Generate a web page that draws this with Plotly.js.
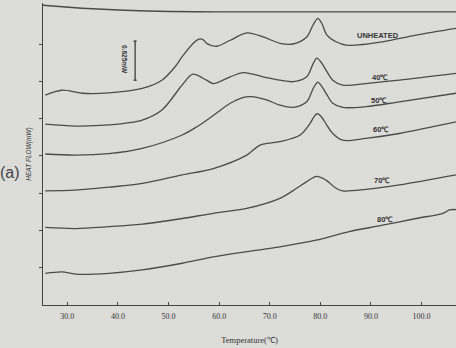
<!DOCTYPE html>
<html>
<head>
<meta charset="utf-8">
<script src="https://cdn.plot.ly/plotly-3.0.1.min.js"></script>
<style>html,body{margin:0;padding:0;background:#dcdcd9;}#chart{width:456px;height:348px;}</style>
</head>
<body>
<div id="chart"></div>
<script>
// Temperature (°C) and heat flow (offset, arbitrary mW units)
var tUnheated = [25.65, 28.95, 32.9, 38.2, 44.8, 48.7, 51.3, 52.7, 54.9, 56.0, 56.8, 57.6, 59.5, 62.2, 65.5, 68.7, 72.0, 74.6, 77.3, 78.6, 79.5, 80.3, 81.3, 83.1, 85.1, 92.3, 98.9, 106.8];
var hfUnheated = [5.63, 5.76, 5.68, 5.69, 5.81, 6.03, 6.39, 6.66, 7.02, 7.13, 7.12, 7.01, 6.94, 7.10, 7.30, 7.19, 7.02, 7.00, 7.19, 7.52, 7.69, 7.55, 7.24, 7.06, 6.97, 7.06, 7.24, 7.42];

var t40 = [25.65, 31.6, 38.2, 44.8, 48.7, 52.7, 54.8, 57.5, 58.85, 62.2, 64.8, 68.7, 72.0, 74.7, 77.3, 78.6, 79.3, 80.2, 81.3, 82.45, 84.4, 89.0, 95.6, 106.8];
var hf40 = [4.85, 4.80, 4.83, 4.96, 5.23, 5.90, 6.19, 6.03, 5.94, 6.12, 6.23, 6.12, 6.03, 5.99, 6.12, 6.48, 6.62, 6.50, 6.26, 6.03, 5.90, 5.94, 6.03, 6.21];

var t50 = [25.65, 31.6, 38.2, 44.8, 52.7, 55.6, 58.9, 62.2, 64.8, 66.3, 69.4, 72.0, 74.7, 77.3, 78.7, 79.5, 80.3, 81.3, 82.45, 84.4, 89.0, 95.6, 106.8];
var hf50 = [4.05, 4.02, 4.06, 4.20, 4.56, 4.78, 5.09, 5.41, 5.57, 5.59, 5.50, 5.36, 5.30, 5.45, 5.84, 5.98, 5.86, 5.64, 5.41, 5.30, 5.32, 5.45, 5.68];

var t60 = [25.65, 31.6, 38.2, 44.8, 52.7, 58.85, 65.45, 68.1, 72.0, 76.0, 78.0, 78.7, 79.35, 80.2, 81.2, 82.45, 84.4, 89.0, 95.6, 106.8];
var hf60 = [3.06, 3.08, 3.16, 3.26, 3.49, 3.66, 4.02, 4.29, 4.38, 4.56, 4.88, 5.04, 5.13, 5.05, 4.84, 4.60, 4.42, 4.47, 4.60, 4.91];

var t70 = [25.65, 31.6, 38.2, 44.8, 52.7, 58.85, 65.45, 72.0, 75.3, 77.3, 79.25, 81.1, 83.1, 84.4, 89.0, 95.6, 106.8];
var hf70 = [2.08, 2.05, 2.10, 2.17, 2.32, 2.46, 2.59, 2.86, 3.13, 3.31, 3.45, 3.35, 3.13, 3.06, 3.10, 3.22, 3.49];

var t80 = [25.65, 28.95, 31.6, 38.2, 44.8, 52.7, 58.85, 65.45, 72.0, 79.15, 85.7, 92.3, 98.9, 104.2, 105.5, 106.8];
var hf80 = [0.85, 0.89, 0.83, 0.85, 0.94, 1.12, 1.29, 1.43, 1.56, 1.74, 1.97, 2.14, 2.32, 2.46, 2.55, 2.56];

var curveLabels = ["UNHEATED", "40\u2103", "50\u2103", "60\u2103", "70\u2103", "80\u2103"];
var labelTemp = [91.4, 91.8, 91.6, 91.9, 92.2, 92.8];
var labelHF = [7.24, 6.09, 5.48, 4.71, 3.33, 2.28];

var xTicks = [30, 40, 50, 60, 70, 80, 90, 100];
var xTickText = ["30.0", "40.0", "50.0", "60.0", "70.0", "80.0", "90.0", "100.0"];
var yTicks = [1, 2, 3, 4, 5, 6, 7];

var lineColor = '#4b4b4b';
var series = [[tUnheated, hfUnheated], [t40, hf40], [t50, hf50], [t60, hf60], [t70, hf70], [t80, hf80]];
var traces = series.map(function (s, i) {
  return {
    x: s[0], y: s[1], type: 'scatter', mode: 'lines', name: curveLabels[i],
    line: {color: lineColor, width: 1.3, shape: 'spline', smoothing: 0.9},
    hoverinfo: 'skip', showlegend: false
  };
});

var annotations = curveLabels.map(function (txt, i) {
  return {
    x: labelTemp[i], y: labelHF[i], xref: 'x', yref: 'y', text: '<b>' + txt + '</b>',
    showarrow: false, font: {family: 'Liberation Sans, Arial, sans-serif', size: 7.5, color: '#333'}
  };
});
annotations.push({
  x: 41.4, y: 6.57, xref: 'x', yref: 'y', text: '<b>0.625mW</b>', textangle: 90,
  showarrow: false, font: {family: 'Liberation Sans, Arial, sans-serif', size: 6.5, color: '#333'}
});
annotations.push({
  x: -0.08, y: 0.44, xref: 'paper', yref: 'paper', text: '(a)', showarrow: false,
  xanchor: 'center', yanchor: 'middle',
  font: {family: 'Liberation Sans, Arial, sans-serif', size: 16, color: '#444'}
});

var shapes = [
  {type: 'path', xref: 'x', yref: 'y', path: 'M 25.2,8.04 Q 40,7.86 60,7.86 L 106.8,7.86',
   line: {color: lineColor, width: 1.3}},
  {type: 'line', xref: 'x', yref: 'y', x0: 43.4, x1: 43.4, y0: 6.03, y1: 7.08, line: {color: '#333', width: 1.2}},
  {type: 'line', xref: 'x', yref: 'y', x0: 43.1, x1: 43.7, y0: 7.08, y1: 7.08, line: {color: '#333', width: 1.2}},
  {type: 'line', xref: 'x', yref: 'y', x0: 43.1, x1: 43.7, y0: 6.03, y1: 6.03, line: {color: '#333', width: 1.2}}
];

var layout = {
  width: 456, height: 348,
  margin: {l: 43, r: 0, t: 3, b: 43},
  paper_bgcolor: '#dcdcd9', plot_bgcolor: 'rgba(0,0,0,0)',
  showlegend: false,
  xaxis: {
    range: [25.2, 106.8], tickvals: xTicks, ticktext: xTickText,
    showline: true, linecolor: '#444', linewidth: 1.3, zeroline: false, showgrid: false,
    ticks: 'inside', ticklen: 3, tickcolor: '#444', tickwidth: 1,
    ticklabelstandoff: 3,
    tickfont: {family: 'Liberation Serif, Times New Roman, serif', size: 8, color: '#333'},
    title: {text: 'Temperature(\u2103)', standoff: 17,
            font: {family: 'Liberation Serif, Times New Roman, serif', size: 8.5, color: '#333'}}
  },
  yaxis: {
    range: [0, 8.1], tickvals: yTicks, showticklabels: false,
    showline: true, linecolor: '#444', linewidth: 1.3, zeroline: false, showgrid: false,
    ticks: 'outside', ticklen: 3, tickcolor: '#444', tickwidth: 1,
    title: {text: '<i>HEAT FLOW(mW)</i>', standoff: 6,
            font: {family: 'Liberation Sans, Arial, sans-serif', size: 6.5, color: '#333'}}
  },
  annotations: annotations,
  shapes: shapes
};

Plotly.newPlot('chart', traces, layout, {staticPlot: true, displayModeBar: false});
</script>
</body>
</html>
